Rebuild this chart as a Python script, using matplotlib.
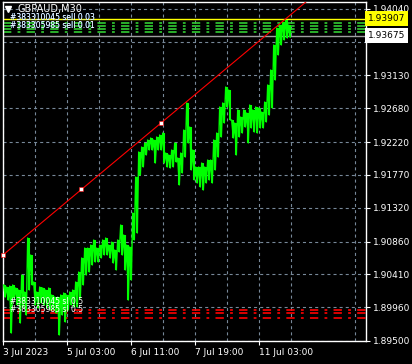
import matplotlib
matplotlib.use("Agg")
import matplotlib.pyplot as plt
import matplotlib.transforms as mtransforms
from matplotlib.lines import Line2D
import numpy as np

plt.rcParams["font.family"] = ["DejaVu Sans"]
plt.rcParams["lines.scale_dashes"] = False

# GBPAUD M30 - high / low of each group of 3 bars
highs = [1.90266, 1.90238, 1.90252, 1.90266, 1.90225, 1.90197, 1.90402, 1.90170,
         1.90908, 1.90676, 1.90307, 1.90170, 1.90238, 1.90225, 1.90197, 1.90225,
         1.90129, 1.90101, 1.90101, 1.90129, 1.90156, 1.90129, 1.90170, 1.90197,
         1.90307, 1.90443, 1.90635, 1.90771, 1.90771, 1.90812, 1.90881, 1.90771,
         1.90812, 1.90881, 1.90908, 1.90812, 1.90853, 1.90744, 1.90881, 1.91086,
         1.90949, 1.90812, 1.90785, 1.91250, 1.91742, 1.92084, 1.92152, 1.92207,
         1.92248, 1.92275, 1.92248, 1.92289, 1.92316, 1.92343, 1.92070, 1.92043,
         1.92111, 1.92207, 1.92002, 1.92070, 1.92384, 1.92754, 1.92425, 1.92111,
         1.91879, 1.91879, 1.91933, 1.91879, 1.91974, 1.91974, 1.92248, 1.92343,
         1.92699, 1.92754, 1.92972, 1.92931, 1.92521, 1.92480, 1.92658, 1.92562,
         1.92658, 1.92617, 1.92726, 1.92658, 1.92699, 1.92685, 1.92630, 1.92767,
         1.93000, 1.93205, 1.93546, 1.93779, 1.93820, 1.93861, 1.93888, 1.93820]
lows = [1.90101, 1.90060, 1.89609, 1.90088, 1.89992, 1.89746, 1.89965, 1.89855,
        1.90197, 1.90266, 1.89992, 1.89951, 1.90019, 1.89992, 1.89951, 1.89924,
        1.89924, 1.89883, 1.89582, 1.89855, 1.89760, 1.89924, 1.89992, 1.89965,
        1.89965, 1.90088, 1.90266, 1.90402, 1.90443, 1.90539, 1.90580, 1.90580,
        1.90635, 1.90676, 1.90676, 1.90635, 1.90566, 1.90471, 1.90717, 1.90676,
        1.90471, 1.90060, 1.90334, 1.90881, 1.90976, 1.91769, 1.91879, 1.92043,
        1.92111, 1.92111, 1.91933, 1.92111, 1.92111, 1.91933, 1.91879, 1.91865,
        1.91879, 1.91947, 1.91633, 1.91797, 1.92015, 1.92207, 1.91838, 1.91701,
        1.91660, 1.91605, 1.91564, 1.91660, 1.91701, 1.91660, 1.91838, 1.92015,
        1.92289, 1.92480, 1.92699, 1.92521, 1.92275, 1.92043, 1.92289, 1.92343,
        1.92425, 1.92207, 1.92412, 1.92357, 1.92343, 1.92412, 1.92412, 1.92494,
        1.92589, 1.92685, 1.93068, 1.93410, 1.93546, 1.93615, 1.93642, 1.93656]
bar_step = 3  # bars per value

# trendline anchors (bar index, price)
trend_bars = [0, 78, 158]
trend_prices = [1.90676, 1.91580, 1.92480]

# horizontal levels
ask_price = 1.93907
bid_price = 1.93675
green_levels = [1.93847, 1.93806, 1.93765, 1.93724]
red_levels = [1.89924, 1.89883, 1.89814]

# axes
price_ticks = [1.89500, 1.89960, 1.90410, 1.90860, 1.91320, 1.91770,
               1.92220, 1.92680, 1.93130, 1.93590, 1.94040]
time_ticks = [0, 64, 128, 192, 256]
time_labels = ["3 Jul 2023", "5 Jul 03:00", "6 Jul 11:00", "7 Jul 19:00", "11 Jul 03:00"]
n_visible = 363
y_lo, y_hi = 1.89500, 1.94134

grid_col = "#778899"

fig = plt.figure(figsize=(4.12, 3.64), dpi=100, facecolor="black")
ax = fig.add_axes([3 / 412, 23 / 364, 363 / 412, 339 / 364])
ax.set_facecolor("black")
ax.set_xlim(0, n_visible)
ax.set_ylim(y_lo, y_hi)

# grid
ax.set_yticks(price_ticks)
# the 1.93590 label sits under the bid box, so leave it blank
ax.set_yticklabels(["" if abs(p - 1.93590) < 1e-9 else "%.5f" % p for p in price_ticks])
ax.set_xticks(time_ticks)
ax.set_xticklabels(time_labels)
ax.set_xticks(np.arange(32, n_visible, 64), minor=True)
ax.grid(True, which="both", axis="x", color=grid_col, lw=0.8, linestyle=(0, (2.2, 2.2)), zorder=0)
ax.grid(True, which="major", axis="y", color=grid_col, lw=0.8, linestyle=(0, (2.2, 2.2)), zorder=0)
ax.set_axisbelow(True)

for s in ax.spines.values():
    s.set_color("white")
    s.set_linewidth(1)

ax.yaxis.tick_right()
ax.tick_params(axis="y", colors="white", length=3, width=0.8, pad=2, labelsize=6.5)
ax.tick_params(axis="x", which="major", colors="white", length=3, width=0.8, pad=2, labelsize=6.5)
ax.tick_params(axis="x", which="minor", length=0)
for lab in ax.get_xticklabels():
    lab.set_ha("left")

# levels
dashdot = (0, (6, 4.5, 2, 4.5))
for lv in green_levels:
    ax.axhline(lv, color="#32cd32", lw=1.2, linestyle=dashdot, zorder=2)
for lv in red_levels:
    ax.axhline(lv, color="#ff0000", lw=1.2, linestyle=dashdot, zorder=2)
ax.axhline(ask_price, color="#ffff00", lw=1, zorder=2)
ax.axhline(bid_price, color="#a0a0a0", lw=1, zorder=2)

# price bars, drawn as thin high-low sticks joined by a jagged line
x = np.arange(len(highs)) * bar_step + bar_step / 2
ax.vlines(x, lows, highs, color="#00ff00", lw=1.5, zorder=3)
zx = np.ravel(np.column_stack([x - 0.8, x + 0.8]))
zy = np.ravel(np.column_stack([highs, lows]))
ax.plot(zx, zy, color="#00ff00", lw=1.0, zorder=3)

# trendline
slope = (trend_prices[-1] - trend_prices[0]) / (trend_bars[-1] - trend_bars[0])
tx = np.array([-10, n_visible])
ax.plot(tx, trend_prices[0] + slope * (tx - trend_bars[0]), color="#ff0000", lw=0.8, zorder=4)
ax.plot(trend_bars, trend_prices, linestyle="none", marker="s", ms=3.2,
        mfc="white", mec="#ff0000", mew=0.4, zorder=5, clip_on=False)

# price labels on the scale
blend = mtransforms.blended_transform_factory(ax.transAxes, ax.transData)
ax.text(1.006, ask_price, "%.5f" % ask_price, transform=blend, ha="left", va="center",
        fontsize=6.5, color="black", clip_on=False, zorder=10,
        bbox=dict(boxstyle="square,pad=0.3", fc="#ffff00", ec="none"))
ax.text(1.006, bid_price, "%.5f" % bid_price, transform=blend, ha="left", va="center",
        fontsize=6.5, color="black", clip_on=False, zorder=10,
        bbox=dict(boxstyle="square,pad=0.3", fc="white", ec="none"))

# chart caption and order labels
fig.add_artist(Line2D([8 / 412], [1 - 9 / 364], marker="v", ms=4.5, color="white",
                      transform=fig.transFigure))
fig.text(17 / 412, 1 - 9 / 364, "GBPAUD,M30", color="white", fontsize=7, va="center")
for yy, txt in [(17, "#383310045 sell 0.03"), (25, "#383305985 sell 0.01")]:
    fig.text(10.5 / 412, 1 - yy / 364, txt, color="#4aa0ff", fontsize=5.5, va="center")
    fig.text(10 / 412, 1 - yy / 364, txt, color="white", fontsize=5.5, va="center")
for yy, txt in [(301, "#383310045 sl 0.5"), (309, "#383305985 sl 0.5")]:
    fig.text(10 / 412, 1 - yy / 364, txt, color="white", fontsize=5.5, va="center")

fig.savefig("out.png", dpi=100, facecolor="black")
